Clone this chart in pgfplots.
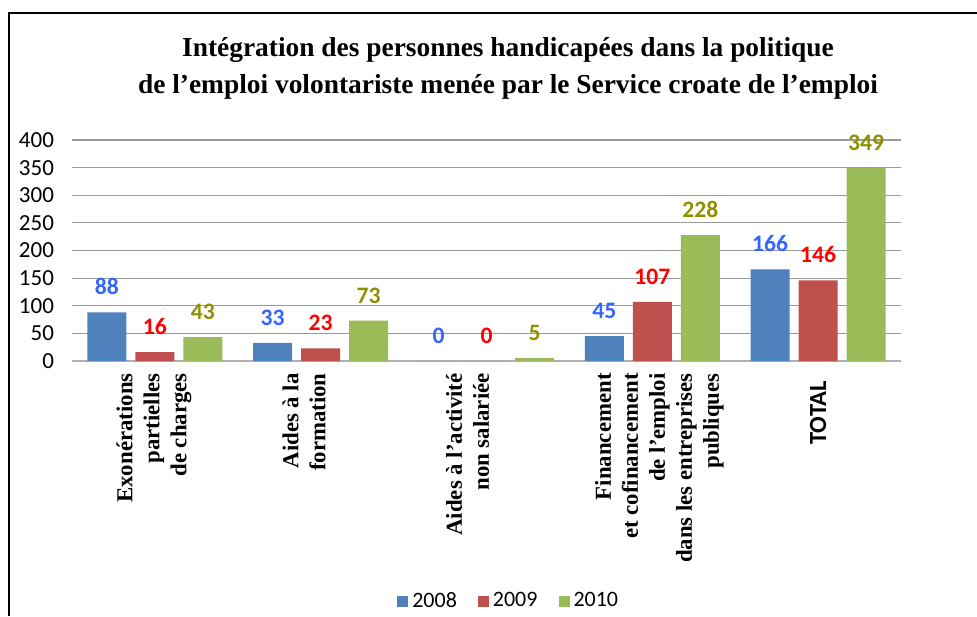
\documentclass[border=0pt]{standalone}
\usepackage{pgfplots}
\pgfplotsset{compat=1.18}
\usepackage{fontspec}
\setmainfont{Carlito}
\newfontfamily\tnr{Liberation Serif}
\definecolor{b1}{HTML}{4F81BD}
\definecolor{b2}{HTML}{C0504D}
\definecolor{b3}{HTML}{9BBB59}
\definecolor{l1}{HTML}{3366FF}
\definecolor{l2}{HTML}{FF0000}
\definecolor{l3}{HTML}{8F8F00}
\definecolor{gridc}{HTML}{9A9A9A}
\definecolor{basec}{HTML}{B0B0B0}
\tikzset{xlab/.style={rotate=90, anchor=east, align=right, inner sep=0pt,
    font=\tnr\bfseries\fontsize{11.4}{13.5}\selectfont}}
\begin{document}
\begin{tikzpicture}
\useasboundingbox (0,0) rectangle (488.5pt,308pt);
\draw[line width=1pt] (4.5pt,0) -- (4.5pt,301.5pt) -- (488.5pt,301.5pt);
\node[font=\tnr\bfseries\fontsize{13.7}{18.5}\selectfont, align=center, inner sep=0pt] at (254pt,273.75pt)
  {Intégration des personnes handicapées dans la politique\\de l’emploi volontariste menée par le Service croate de l’emploi};
\begin{axis}[
  at={(36pt,127.5pt)}, anchor=south west,
  scale only axis, width=414.5pt, height=110.5pt,
  xmin=0.5, xmax=5.5, ymin=0, ymax=400,
  clip=false,
  ybar=4.5pt, bar width=19.5pt,
  xtick=\empty,
  ytick={50,100,...,400},
  extra y ticks={0},
  extra y tick style={grid style={basec, line width=1.3pt}},
  major tick length=0pt,
  ymajorgrids, grid style={gridc, line width=0.6pt},
  axis line style={draw=none},
  /pgf/number format/assume math mode=true,
  yticklabel style={font=\fontsize{11.5}{13}\selectfont, anchor=east, xshift=-5.5pt},
  nodes near coords,
  every node near coord/.append style={font=\bfseries\fontsize{11.8}{13}\selectfont, anchor=south, inner sep=0pt, yshift=8.5pt},
  legend style={at={(0.528,-1.086)}, anchor=center, draw=none, legend columns=3,
    font=\fontsize{11}{12}\selectfont,
    /tikz/every even column/.append style={column sep=8.5pt}},
  legend cell align=left,
]
\addplot[fill=b1, draw=none,
  nodes near coords={\textcolor{l1}{\pgfmathprintnumber{\pgfplotspointmeta}}},
  legend image code/.code={\fill[b1] (0pt,-2.75pt) rectangle (5.5pt,2.75pt);}]
  coordinates {(1,88) (2,33) (3,0) (4,45) (5,166)};
\addplot[fill=b2, draw=none,
  nodes near coords={\textcolor{l2}{\pgfmathprintnumber{\pgfplotspointmeta}}},
  legend image code/.code={\fill[b2] (0pt,-2.75pt) rectangle (5.5pt,2.75pt);}]
  coordinates {(1,16) (2,23) (3,0) (4,107) (5,146)};
\addplot[fill=b3, draw=none,
  nodes near coords={\textcolor{l3}{\pgfmathprintnumber{\pgfplotspointmeta}}},
  legend image code/.code={\fill[b3] (0pt,-2.75pt) rectangle (5.5pt,2.75pt);}]
  coordinates {(1,43) (2,73) (3,5) (4,228) (5,349)};
\legend{2008,2009,2010}
\node[yshift=-6pt, xshift=-0.5pt, xlab] at (axis cs:1,0) {Exonérations\\partielles\\de charges};
\node[yshift=-6pt, xshift=-8.3pt, xlab] at (axis cs:2,0) {Aides à la\\formation};
\node[yshift=-6pt, xshift=-9.5pt, xlab] at (axis cs:3,0) {Aides à l’activité\\non salariée};
\node[yshift=-6pt, xshift=3.5pt, xlab] at (axis cs:4,0) {Financement\\et cofinancement\\de l’emploi\\dans les entreprises\\publiques};
\node[yshift=-10pt, rotate=90, anchor=east, inner sep=0pt, font=\bfseries\fontsize{12.3}{14}\selectfont] at (axis cs:5,0) {TOTAL};
\end{axis}
\end{tikzpicture}
\end{document}
